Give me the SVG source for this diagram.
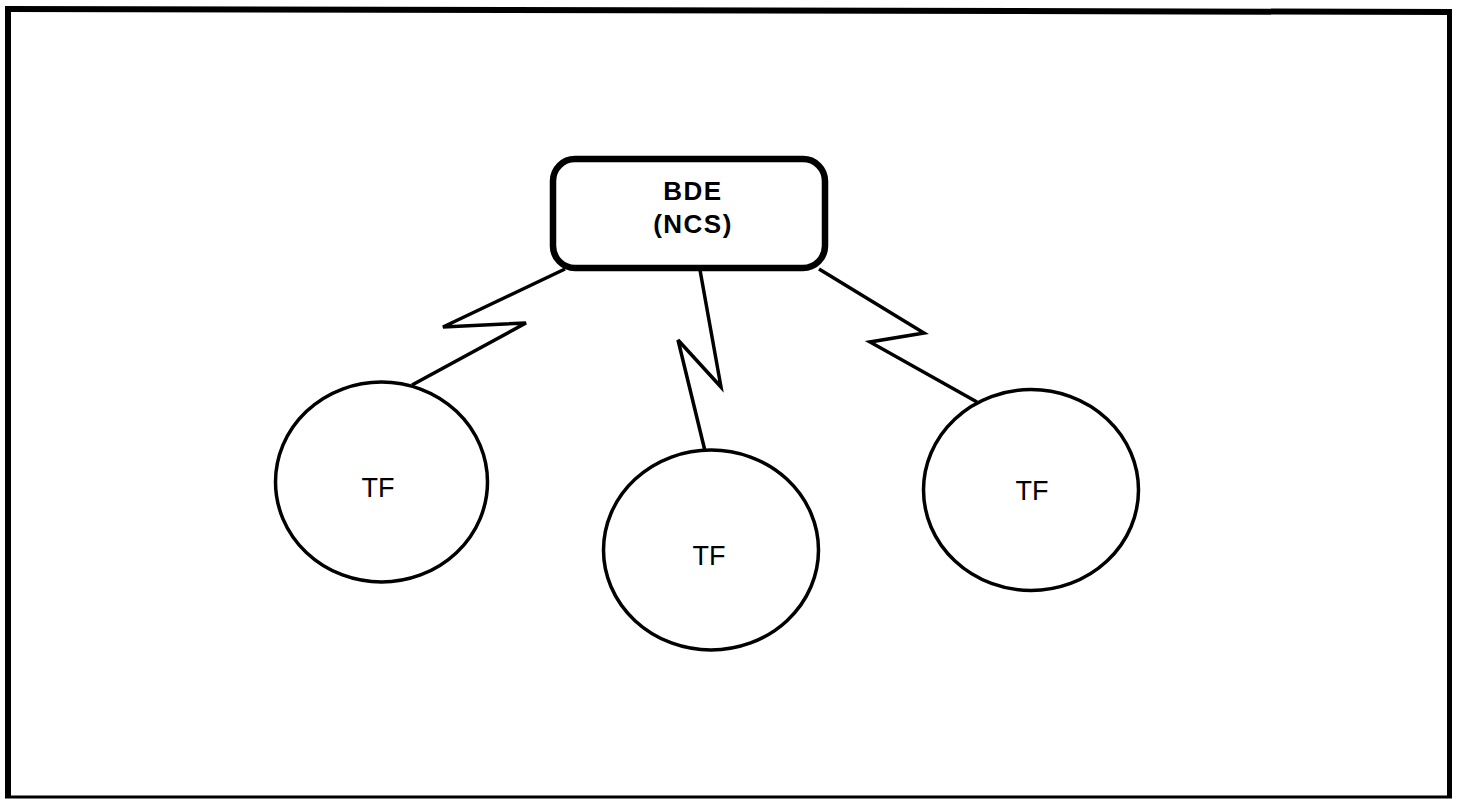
<svg xmlns="http://www.w3.org/2000/svg" width="1457" height="799" viewBox="0 0 1457 799">
<style>
.node{fill:#fff;stroke:#000;stroke-width:3.5}
.box{fill:#fff;stroke:#000;stroke-width:6.5}
.conn{fill:none;stroke:#000;stroke-width:3.5;stroke-linejoin:miter}
.lbl{font-family:"Liberation Sans",Arial,sans-serif;font-size:27px;fill:#000;text-anchor:middle}
.blbl{font-family:"Liberation Sans",Arial,sans-serif;font-size:26px;font-weight:bold;fill:#000;text-anchor:middle;letter-spacing:1.5px}
</style>
<rect width="1457" height="799" fill="#fff"/>
<g id="frame" stroke="#000" fill="none">
<line x1="5" y1="9" x2="1452" y2="12" stroke-width="6"/>
<line x1="8" y1="6" x2="8" y2="798" stroke-width="6"/>
<line x1="1449.5" y1="10" x2="1449.5" y2="798" stroke-width="5"/>
<line x1="5" y1="797" x2="1452" y2="797" stroke-width="3"/>
</g>
<g id="connectors">
<polyline class="conn" points="565,269 443,327 526,323 412,385"/>
<polyline class="conn" points="700,270 721,387 678,340 705,451"/>
<polyline class="conn" points="819,269 924,333 870,342 977,402"/>
</g>
<g id="node-bde">
<rect class="box" x="553" y="159" width="272" height="109" rx="22" ry="22"/>
<text class="blbl" x="693" y="200">BDE</text>
<text class="blbl" x="693" y="233">(NCS)</text>
</g>
<g id="node-tf1">
<ellipse class="node" cx="381.5" cy="482" rx="106" ry="100"/>
<text class="lbl" x="378" y="497">TF</text>
</g>
<g id="node-tf2">
<ellipse class="node" cx="711" cy="550" rx="107.5" ry="100"/>
<text class="lbl" x="709" y="565">TF</text>
</g>
<g id="node-tf3">
<ellipse class="node" cx="1031" cy="490" rx="107.5" ry="100.5"/>
<text class="lbl" x="1032" y="500">TF</text>
</g>
</svg>
